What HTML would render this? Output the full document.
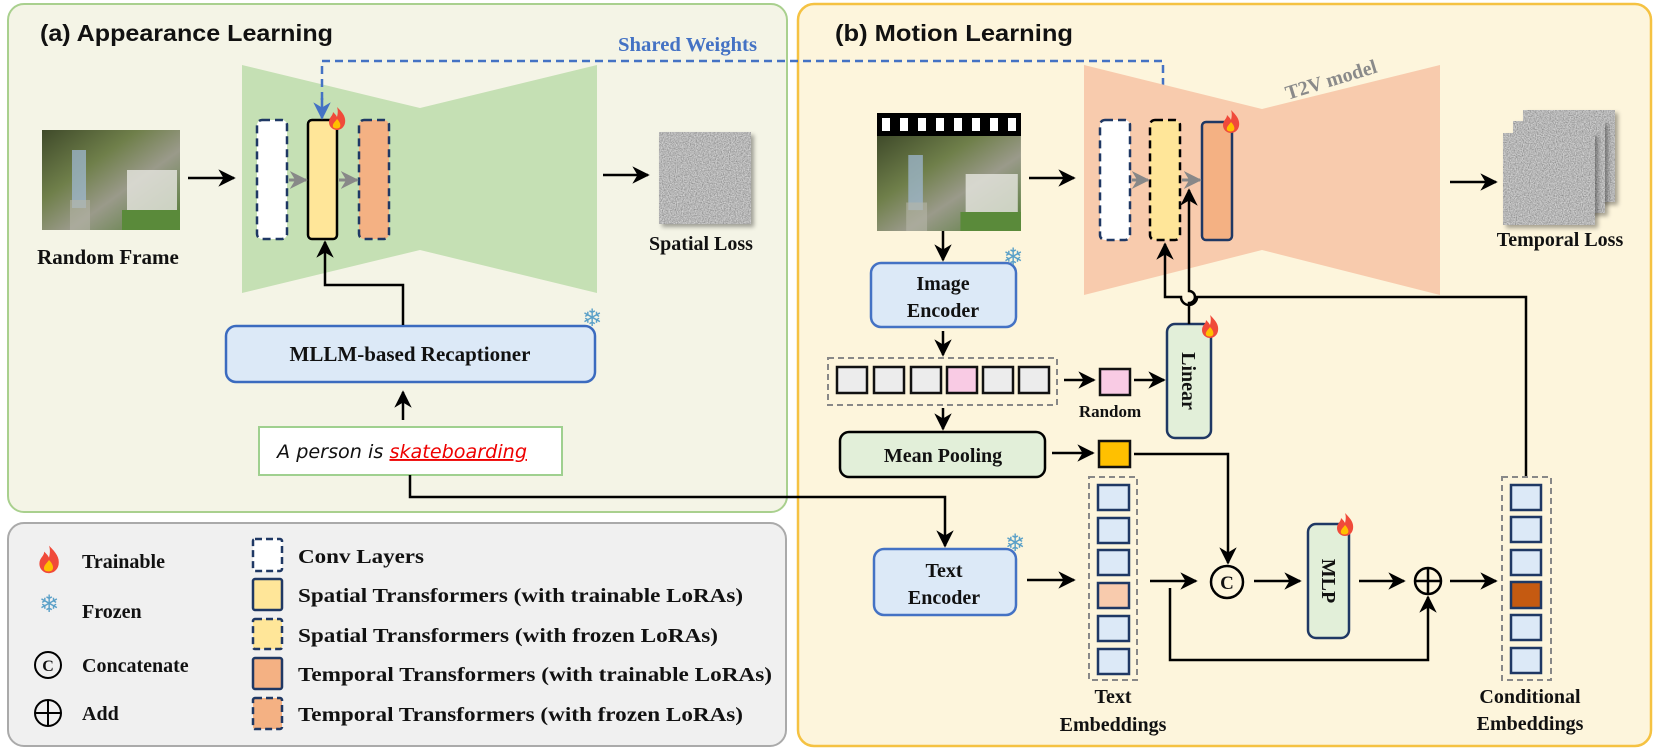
<!DOCTYPE html>
<html><head><meta charset="utf-8"><style>
html,body{margin:0;padding:0;background:#fff}
svg{display:block}
.t{font-family:"Liberation Serif",serif;font-weight:bold;fill:#111}
.h{font-family:"Liberation Sans",sans-serif;font-weight:bold;fill:#111}
</style></head><body>
<svg width="1661" height="751" viewBox="0 0 1661 751" xmlns="http://www.w3.org/2000/svg">
<defs>
<marker id="ar" viewBox="0 0 10 10" refX="9" refY="5" markerWidth="7" markerHeight="7" orient="auto"><path d="M0,0 L10,5 L0,10 L3,5 z" fill="#000"/></marker>
<marker id="ag" viewBox="0 0 10 10" refX="9" refY="5" markerWidth="6" markerHeight="6" orient="auto"><path d="M0,0 L10,5 L0,10 L3,5 z" fill="#888"/></marker>
<marker id="ab" viewBox="0 0 10 10" refX="9" refY="5" markerWidth="7" markerHeight="7" orient="auto"><path d="M0,0 L10,5 L0,10 L3,5 z" fill="#4472c4"/></marker>
<filter id="nz" x="0" y="0" width="1" height="1"><feTurbulence type="fractalNoise" baseFrequency="0.85" numOctaves="2" seed="3"/><feColorMatrix type="matrix" values="0.7 0 0 0 0.12  0.7 0 0 0 0.12  0.7 0 0 0 0.12  0 0 0 0 1"/></filter>
<filter id="sh"><feDropShadow dx="3" dy="3" stdDeviation="2" flood-opacity="0.35"/></filter>
<linearGradient id="ph" x1="0" y1="0" x2="1" y2="1"><stop offset="0" stop-color="#3f4a2a"/><stop offset="0.35" stop-color="#6f7f4a"/><stop offset="0.6" stop-color="#9a9a8a"/><stop offset="1" stop-color="#4f7a30"/></linearGradient>
<g id="fire"><path d="M0,-12 C6,-6 9,-2 8,4 C7,9 3,11 0,11 C-4,11 -8,8 -8,3 C-8,-2 -4,-3 -4,-7 C-2,-5 -1,-4 0,-2 C1,-6 1,-9 0,-12z" fill="#f04a3a"/><path d="M0,0 C3,3 4,6 3,8 C2,10 -3,10 -4,8 C-5,5 -2,3 0,0z" fill="#ffc000"/></g>
<g id="snow"><text x="0" y="8" font-size="24" text-anchor="middle" fill="#5aa0c8" font-family="DejaVu Sans,sans-serif">❄</text></g>
<g id="photo"><rect x="0" y="0" width="138" height="100" fill="url(#ph)"/><rect x="30" y="20" width="14" height="58" fill="#9fb8d0" opacity="0.75"/><rect x="28" y="70" width="20" height="30" fill="#b5b5a8" opacity="0.6"/><rect x="85" y="40" width="50" height="45" fill="#e6e6e0" opacity="0.8"/><rect x="80" y="80" width="58" height="20" fill="#5a8a3a"/></g>
</defs>

<rect x="8" y="4" width="779" height="508" rx="16" fill="#f4f4e6" stroke="#a9d08e" stroke-width="2"/>
<rect x="798" y="4" width="853" height="742" rx="16" fill="#fdf5dc" stroke="#f5c242" stroke-width="2.5"/>
<rect x="8" y="523" width="778" height="223" rx="16" fill="#f0f0f0" stroke="#aaaaaa" stroke-width="2"/>

<text x="40" y="41" class="h" font-size="23" textLength="293" lengthAdjust="spacingAndGlyphs">(a) Appearance Learning</text>
<text x="835" y="41" class="h" font-size="23" textLength="238" lengthAdjust="spacingAndGlyphs">(b) Motion Learning</text>

<polygon points="242,65 420,108 597,65 597,293 420,250 242,293" fill="#c5e0b4"/>
<use href="#photo" x="42" y="130"/>
<text x="108" y="264" class="t" font-size="21" text-anchor="middle">Random Frame</text>
<line x1="188" y1="178" x2="234" y2="178" stroke="#000" stroke-width="2.5" marker-end="url(#ar)"/>
<rect x="257" y="120" width="30" height="119" rx="5" fill="#fff" stroke="#1f3864" stroke-width="2.5" stroke-dasharray="8,5"/>
<rect x="308" y="120" width="29" height="119" rx="4" fill="#ffe699" stroke="#000" stroke-width="2.5"/>
<rect x="359" y="120" width="30" height="119" rx="5" fill="#f4b183" stroke="#1f3864" stroke-width="2.5" stroke-dasharray="8,5"/>
<line x1="289" y1="180" x2="306" y2="180" stroke="#888" stroke-width="3" marker-end="url(#ag)"/>
<line x1="339" y1="180" x2="357" y2="180" stroke="#888" stroke-width="3" marker-end="url(#ag)"/>
<use href="#fire" x="337" y="119"/>
<line x1="603" y1="175" x2="648" y2="175" stroke="#000" stroke-width="2.5" marker-end="url(#ar)"/>
<rect x="659" y="132" width="92" height="92" filter="url(#sh)" fill="#777"/>
<rect x="659" y="132" width="92" height="92" filter="url(#nz)"/>
<text x="701" y="250" class="t" font-size="20" text-anchor="middle">Spatial Loss</text>
<rect x="226" y="326" width="369" height="56" rx="10" fill="#dce9f7" stroke="#3b6bbf" stroke-width="2.5"/>
<text x="410" y="361" class="t" font-size="21" text-anchor="middle">MLLM-based Recaptioner</text>
<use href="#snow" x="592" y="318"/>
<polyline points="403,325 403,285 325,285 325,242" fill="none" stroke="#000" stroke-width="2.5" marker-end="url(#ar)"/>
<rect x="259" y="427" width="303" height="48" fill="#fff" stroke="#9fd08f" stroke-width="2"/>
<text x="277" y="458" font-family="DejaVu Sans,sans-serif" font-size="19" fill="#111" font-style="italic" textLength="250" lengthAdjust="spacingAndGlyphs">A person is <tspan fill="#e00" text-decoration="underline">skateboarding</tspan></text>
<line x1="403" y1="420" x2="403" y2="392" stroke="#000" stroke-width="2.5" marker-end="url(#ar)"/>
<polyline points="410,475 410,497 945,497 945,546" fill="none" stroke="#000" stroke-width="2.5" marker-end="url(#ar)"/>

<polyline points="322,100 322,61 1163,61 1163,100" fill="none" stroke="#4472c4" stroke-width="2.5" stroke-dasharray="8,5"/>
<line x1="322" y1="98" x2="322" y2="118" stroke="#4472c4" stroke-width="2.5" marker-end="url(#ab)"/>
<line x1="1163" y1="98" x2="1163" y2="118" stroke="#4472c4" stroke-width="2.5" marker-end="url(#ab)"/>
<text x="618" y="51" class="t" font-size="20" style="fill:#4472c4" textLength="139" lengthAdjust="spacingAndGlyphs">Shared Weights</text>

<polygon points="1084,65 1262,109 1440,65 1440,295 1262,250 1084,295" fill="#f8cbad"/>
<text x="1333" y="86" class="t" font-size="20" style="fill:#8a8a8a" transform="rotate(-17 1333 86)" text-anchor="middle">T2V model</text>
<rect x="877" y="113" width="144" height="23" fill="#000"/>
<g fill="#fff"><rect x="882" y="118" width="8" height="13"/><rect x="900" y="118" width="8" height="13"/><rect x="918" y="118" width="8" height="13"/><rect x="936" y="118" width="8" height="13"/><rect x="954" y="118" width="8" height="13"/><rect x="972" y="118" width="8" height="13"/><rect x="990" y="118" width="8" height="13"/><rect x="1008" y="118" width="8" height="13"/></g>
<g transform="translate(877 136) scale(1.043 0.95)"><use href="#photo"/></g>
<line x1="1029" y1="178" x2="1074" y2="178" stroke="#000" stroke-width="2.5" marker-end="url(#ar)"/>
<rect x="1100" y="120" width="30" height="120" rx="5" fill="#fff" stroke="#1f3864" stroke-width="2.5" stroke-dasharray="8,5"/>
<rect x="1150" y="120" width="30" height="120" rx="5" fill="#ffe699" stroke="#000" stroke-width="2.5" stroke-dasharray="8,5"/>
<rect x="1202" y="122" width="30" height="118" rx="4" fill="#f4b183" stroke="#1f3864" stroke-width="2.5"/>
<line x1="1132" y1="180" x2="1148" y2="180" stroke="#888" stroke-width="3" marker-end="url(#ag)"/>
<line x1="1182" y1="180" x2="1200" y2="180" stroke="#888" stroke-width="3" marker-end="url(#ag)"/>
<use href="#fire" x="1231" y="122"/>
<line x1="1450" y1="182" x2="1496" y2="182" stroke="#000" stroke-width="2.5" marker-end="url(#ar)"/>
<rect x="1523" y="110" width="92" height="92" fill="#777" filter="url(#sh)"/><rect x="1523" y="110" width="92" height="92" filter="url(#nz)"/>
<rect x="1513" y="121" width="92" height="92" fill="#777" filter="url(#sh)"/><rect x="1513" y="121" width="92" height="92" filter="url(#nz)"/>
<rect x="1503" y="133" width="92" height="92" fill="#777" filter="url(#sh)"/><rect x="1503" y="133" width="92" height="92" filter="url(#nz)"/>
<text x="1560" y="246" class="t" font-size="20" text-anchor="middle">Temporal Loss</text>

<line x1="943" y1="231" x2="943" y2="260" stroke="#000" stroke-width="2.5" marker-end="url(#ar)"/>
<rect x="871" y="263" width="145" height="64" rx="10" fill="#dce9f7" stroke="#4472c4" stroke-width="2.5"/>
<text x="943" y="290" class="t" font-size="20" text-anchor="middle">Image</text>
<text x="943" y="317" class="t" font-size="20" text-anchor="middle">Encoder</text>
<use href="#snow" x="1013" y="257"/>
<line x1="943" y1="331" x2="943" y2="355" stroke="#000" stroke-width="2.5" marker-end="url(#ar)"/>
<rect x="828" y="358" width="229" height="47" fill="none" stroke="#888" stroke-width="2" stroke-dasharray="6,4"/>
<g stroke="#111" stroke-width="2.5" fill="#ececec">
<rect x="837" y="367" width="30" height="26"/><rect x="874" y="367" width="30" height="26"/><rect x="911" y="367" width="30" height="26"/><rect x="947" y="367" width="30" height="26" fill="#f9cbe4"/><rect x="983" y="367" width="30" height="26"/><rect x="1019" y="367" width="30" height="26"/>
<rect x="1100" y="369" width="30" height="26" fill="#f9cbe4"/>
</g>
<line x1="1064" y1="380" x2="1094" y2="380" stroke="#000" stroke-width="2.5" marker-end="url(#ar)"/>
<text x="1110" y="417" class="t" font-size="17" text-anchor="middle">Random</text>
<line x1="1134" y1="380" x2="1164" y2="380" stroke="#000" stroke-width="2.5" marker-end="url(#ar)"/>
<rect x="1167" y="324" width="44" height="114" rx="8" fill="#e2efd9" stroke="#1f3864" stroke-width="2.5"/>
<text x="0" y="0" class="t" font-size="20" text-anchor="middle" transform="translate(1182 381) rotate(90)">Linear</text>
<use href="#fire" x="1210" y="327"/>
<path d="M1189,324 L1189,303 A6,6 0 0 0 1189,291 L1189,190" fill="none" stroke="#000" stroke-width="2.5" marker-end="url(#ar)"/>
<path d="M1526,477 L1526,297 L1197,297 A8,8 0 0 1 1181,297 L1165,297 L1165,244" fill="none" stroke="#000" stroke-width="2.5" marker-end="url(#ar)"/>

<line x1="943" y1="408" x2="943" y2="429" stroke="#000" stroke-width="2.5" marker-end="url(#ar)"/>
<rect x="840" y="432" width="205" height="45" rx="9" fill="#e2efd9" stroke="#000" stroke-width="2.5"/>
<text x="943" y="462" class="t" font-size="20" text-anchor="middle">Mean Pooling</text>
<line x1="1052" y1="453" x2="1093" y2="453" stroke="#000" stroke-width="2.5" marker-end="url(#ar)"/>
<rect x="1099" y="441" width="31" height="26" fill="#ffc000" stroke="#111" stroke-width="2.5"/>
<polyline points="1134,454 1228,454 1228,563" fill="none" stroke="#000" stroke-width="2.5" marker-end="url(#ar)"/>

<rect x="874" y="549" width="142" height="66" rx="10" fill="#dce9f7" stroke="#4472c4" stroke-width="2.5"/>
<text x="944" y="577" class="t" font-size="20" text-anchor="middle">Text</text>
<text x="944" y="604" class="t" font-size="20" text-anchor="middle">Encoder</text>
<use href="#snow" x="1015" y="543"/>
<line x1="1027" y1="580" x2="1074" y2="580" stroke="#000" stroke-width="2.5" marker-end="url(#ar)"/>

<rect x="1089" y="477" width="48" height="203" fill="none" stroke="#888" stroke-width="2" stroke-dasharray="6,4"/>
<g stroke="#1f3864" stroke-width="2.5" fill="#dce9f7">
<rect x="1098" y="485" width="31" height="25"/><rect x="1098" y="518" width="31" height="25"/><rect x="1098" y="550" width="31" height="25"/><rect x="1098" y="583" width="31" height="25" fill="#f8cbad"/><rect x="1098" y="616" width="31" height="25"/><rect x="1098" y="649" width="31" height="25"/>
</g>
<text x="1113" y="703" class="t" font-size="20" text-anchor="middle">Text</text>
<text x="1113" y="731" class="t" font-size="20" text-anchor="middle">Embeddings</text>

<line x1="1150" y1="581" x2="1196" y2="581" stroke="#000" stroke-width="2.5" marker-end="url(#ar)"/>
<circle cx="1227" cy="582" r="16" fill="none" stroke="#000" stroke-width="2.5"/>
<text x="1227" y="589" class="t" font-size="19" text-anchor="middle">C</text>
<line x1="1254" y1="581" x2="1300" y2="581" stroke="#000" stroke-width="2.5" marker-end="url(#ar)"/>
<rect x="1308" y="524" width="41" height="114" rx="8" fill="#e2efd9" stroke="#1f3864" stroke-width="2.5"/>
<text x="0" y="0" class="t" font-size="20" text-anchor="middle" transform="translate(1322 581) rotate(90)">MLP</text>
<use href="#fire" x="1345" y="525"/>
<line x1="1359" y1="581" x2="1404" y2="581" stroke="#000" stroke-width="2.5" marker-end="url(#ar)"/>
<circle cx="1428" cy="581" r="13" fill="none" stroke="#000" stroke-width="2.5"/>
<line x1="1415" y1="581" x2="1441" y2="581" stroke="#000" stroke-width="2.5"/>
<line x1="1428" y1="568" x2="1428" y2="594" stroke="#000" stroke-width="2.5"/>
<polyline points="1170,588 1170,660 1428,660 1428,597" fill="none" stroke="#000" stroke-width="2.5" marker-end="url(#ar)"/>
<line x1="1450" y1="581" x2="1496" y2="581" stroke="#000" stroke-width="2.5" marker-end="url(#ar)"/>

<rect x="1502" y="477" width="49" height="203" fill="none" stroke="#888" stroke-width="2" stroke-dasharray="6,4"/>
<g stroke="#1f3864" stroke-width="2.5" fill="#dce9f7">
<rect x="1511" y="485" width="30" height="25"/><rect x="1511" y="517" width="30" height="25"/><rect x="1511" y="550" width="30" height="25"/><rect x="1511" y="582" width="30" height="26" fill="#c55a11"/><rect x="1511" y="615" width="30" height="25"/><rect x="1511" y="648" width="30" height="25"/>
</g>
<text x="1530" y="703" class="t" font-size="20" text-anchor="middle">Conditional</text>
<text x="1530" y="730" class="t" font-size="20" text-anchor="middle">Embeddings</text>

<g transform="translate(49 560) scale(1.2)"><use href="#fire"/></g>
<text x="82" y="568" class="t" font-size="20">Trainable</text>
<use href="#snow" x="49" y="604"/>
<text x="82" y="618" class="t" font-size="20">Frozen</text>
<circle cx="48" cy="665" r="13" fill="none" stroke="#000" stroke-width="2"/>
<text x="48" y="671" class="t" font-size="16" text-anchor="middle">C</text>
<text x="82" y="672" class="t" font-size="20">Concatenate</text>
<circle cx="48" cy="713" r="13" fill="none" stroke="#000" stroke-width="2"/>
<line x1="35" y1="713" x2="61" y2="713" stroke="#000" stroke-width="2"/><line x1="48" y1="700" x2="48" y2="726" stroke="#000" stroke-width="2"/>
<text x="82" y="720" class="t" font-size="20">Add</text>

<rect x="253" y="539" width="29" height="32" rx="2" fill="#fff" stroke="#1f3864" stroke-width="2.5" stroke-dasharray="7,4"/>
<text x="298" y="563" class="t" font-size="20" textLength="126" lengthAdjust="spacingAndGlyphs">Conv Layers</text>
<rect x="253" y="579" width="29" height="31" rx="2" fill="#ffe699" stroke="#1f3864" stroke-width="2.5"/>
<text x="298" y="602" class="t" font-size="20" textLength="445" lengthAdjust="spacingAndGlyphs">Spatial Transformers (with trainable LoRAs)</text>
<rect x="253" y="619" width="29" height="30" rx="2" fill="#ffe699" stroke="#1f3864" stroke-width="2.5" stroke-dasharray="7,4"/>
<text x="298" y="642" class="t" font-size="20" textLength="420" lengthAdjust="spacingAndGlyphs">Spatial Transformers (with frozen LoRAs)</text>
<rect x="253" y="658" width="29" height="31" rx="2" fill="#f4b183" stroke="#1f3864" stroke-width="2.5"/>
<text x="298" y="681" class="t" font-size="20" textLength="474" lengthAdjust="spacingAndGlyphs">Temporal Transformers (with trainable LoRAs)</text>
<rect x="253" y="698" width="29" height="31" rx="2" fill="#f4b183" stroke="#1f3864" stroke-width="2.5" stroke-dasharray="7,4"/>
<text x="298" y="721" class="t" font-size="20" textLength="445" lengthAdjust="spacingAndGlyphs">Temporal Transformers (with frozen LoRAs)</text>
</svg>
</body></html>
